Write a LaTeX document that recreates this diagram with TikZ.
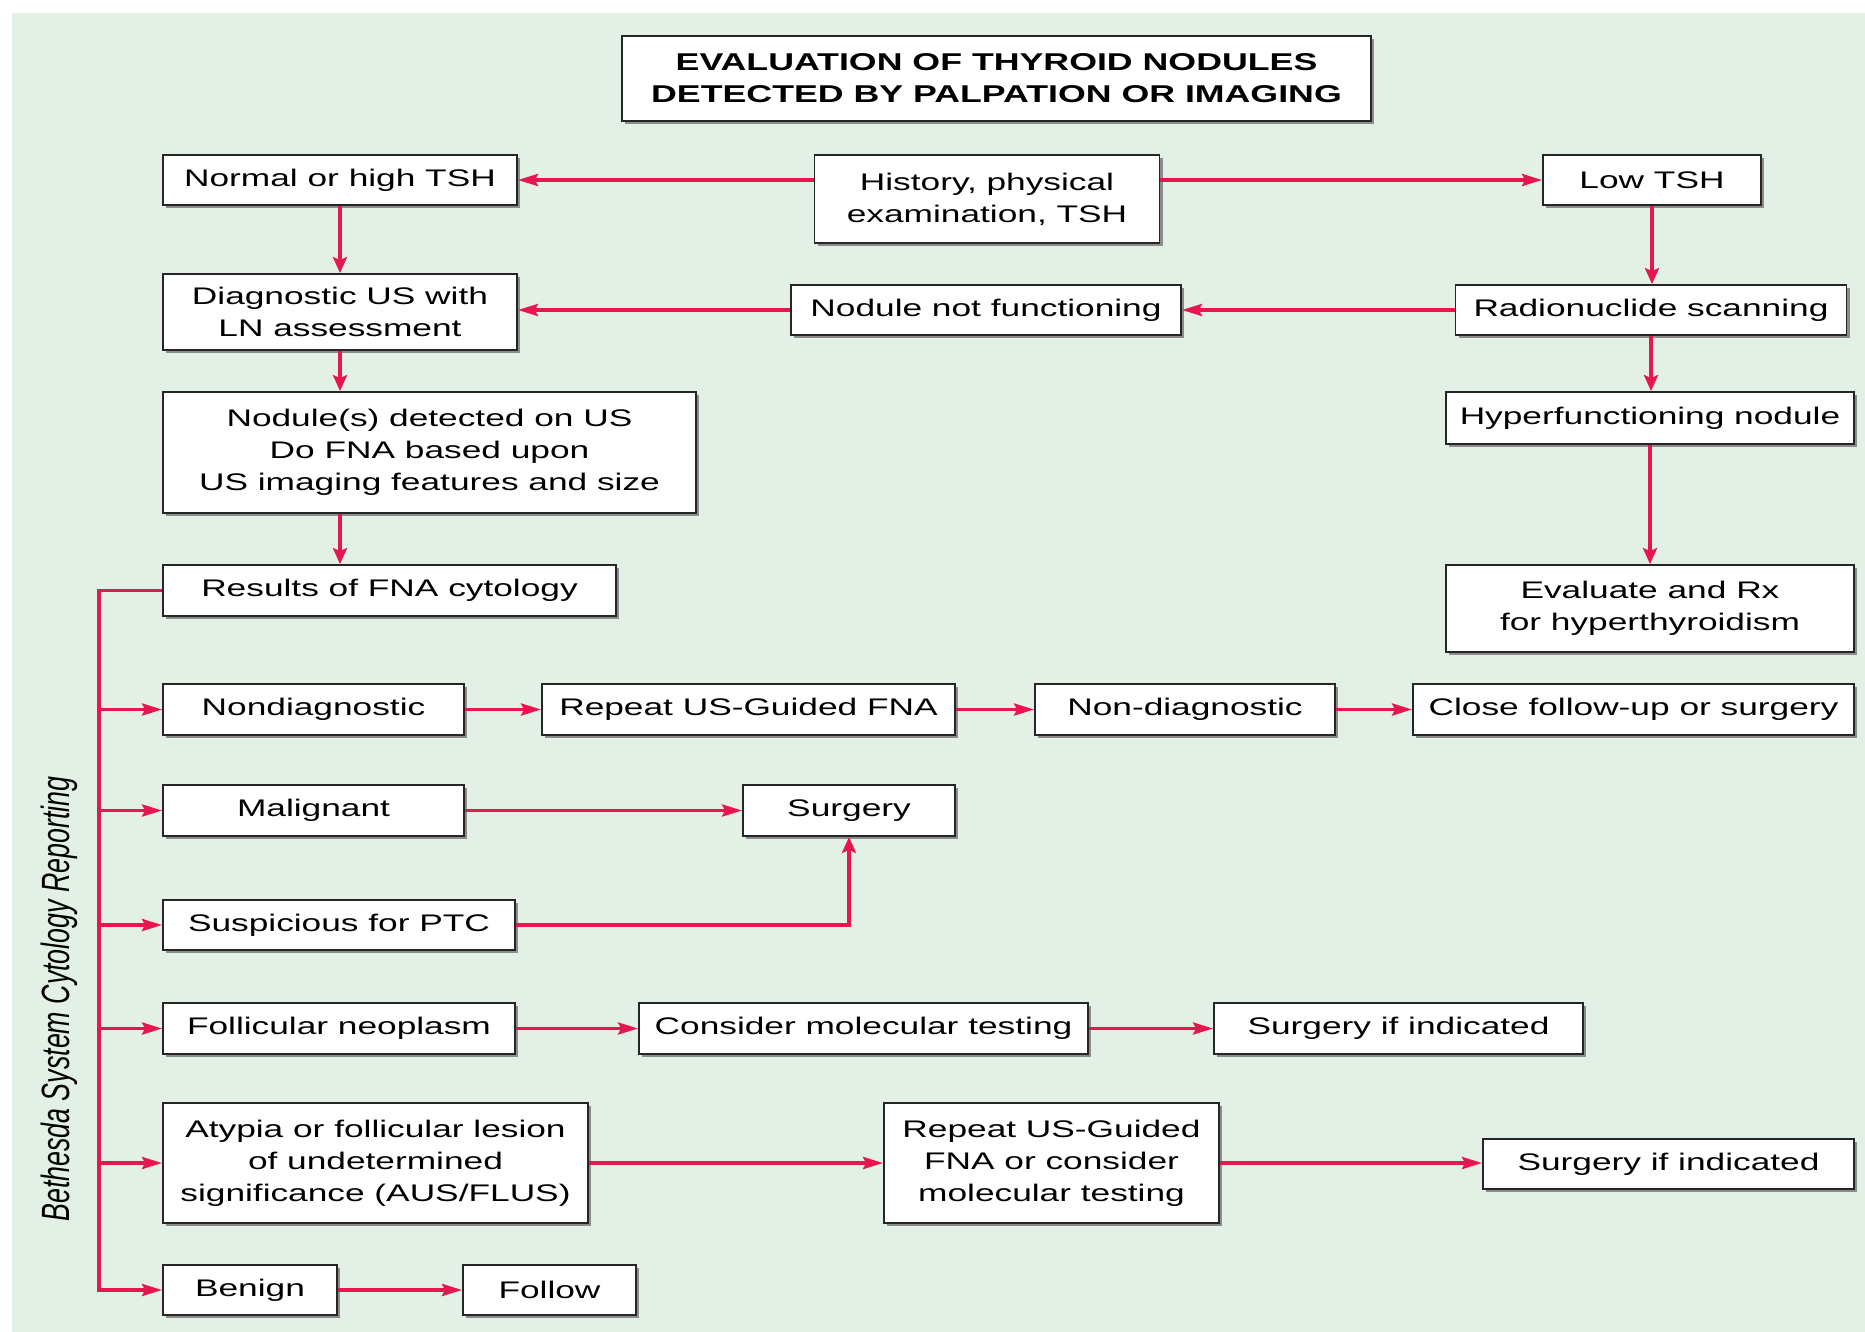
\documentclass[tikz,border=0pt]{standalone}
\usepackage{fontspec}
\setmainfont[FakeStretch=1.47]{Liberation Sans}
\newfontfamily\sidefont{Liberation Sans}
\usetikzlibrary{arrows.meta,shadows}
\definecolor{bggreen}{RGB}{226,240,229}
\definecolor{flowred}{RGB}{232,22,78}

\begin{document}
\begin{tikzpicture}[x=0.5pt,y=-0.5pt,
	box/.style={draw=black!85,line width=0.9pt,fill=white,align=center,inner sep=2pt,minimum height=25pt,
		font=\fontsize{12}{16}\selectfont,drop shadow={shadow xshift=1.6pt,shadow yshift=-1.6pt,fill=black!45,opacity=1}},
	harr/.style={draw=flowred,line width=1.8pt,-{Stealth[length=10pt,width=6pt,inset=1.5pt]}},
	varr/.style={draw=flowred,line width=1.8pt,-{Stealth[length=8pt,width=7pt,inset=1.5pt]}}]
	\useasboundingbox (0,0) rectangle (1865,1332);
	\fill[bggreen] (12,13) rectangle (1865,1332);
	% top part
	\node[box,minimum width=374.5pt,minimum height=42.5pt,font=\fontsize{12.15}{16}\selectfont\bfseries] (title) at (996.5,78.5) {EVALUATION OF THYROID NODULES\\DETECTED BY PALPATION OR IMAGING};
	\node[box,minimum width=177pt] (normal) at (340,180) {Normal or high TSH};
	\node[box,minimum width=172.5pt,minimum height=44pt] (hist) at (987,199) {History, physical\\examination, TSH};
	\node[box,minimum width=109pt] (low) at (1652,180) {Low TSH};
	\node[box,minimum width=177pt,minimum height=38pt] (diag) at (340,312) {Diagnostic US with\\LN assessment};
	\node[box,minimum width=195pt] (notfun) at (986,310) {Nodule not functioning};
	\node[box,minimum width=195.5pt] (radio) at (1651,310) {Radionuclide scanning};
	\node[box,minimum width=266.5pt,minimum height=60.5pt] (nodus) at (429.5,452.5) {Nodule(s) detected on US\\Do FNA based upon\\US imaging features and size};
	\node[box,minimum width=204pt,minimum height=26pt] (hyper) at (1650,418) {Hyperfunctioning nodule};
	\node[box,minimum width=226.5pt,minimum height=25.5pt] (results) at (389.5,590.5) {Results of FNA cytology};
	\node[box,minimum width=204pt,minimum height=43.5pt] (evalrx) at (1650,608.5) {Evaluate and Rx\\for hyperthyroidism};
	% Bethesda categories
	\node[box,minimum width=150.5pt,minimum height=25.5pt] (nondiag) at (313.5,709.5) {Nondiagnostic};
	\node[box,minimum width=206.5pt,minimum height=25.5pt] (repeat) at (748.5,709.5) {Repeat US-Guided FNA};
	\node[box,minimum width=150pt,minimum height=25.5pt] (nondiagb) at (1185,709.5) {Non-diagnostic};
	\node[box,minimum width=220.5pt,minimum height=25.5pt] (closefu) at (1633.5,709.5) {Close follow-up or surgery};
	\node[box,minimum width=150.5pt,minimum height=25.5pt] (malig) at (313.5,810.5) {Malignant};
	\node[box,minimum width=106pt,minimum height=25.5pt] (surg) at (849,810.5) {Surgery};
	\node[box,minimum width=176pt] (susp) at (339,925) {Suspicious for PTC};
	\node[box,minimum width=176pt,minimum height=25.5pt] (foll) at (339,1028.5) {Follicular neoplasm};
	\node[box,minimum width=224.5pt,minimum height=25.5pt] (molec) at (863.5,1028.5) {Consider molecular testing};
	\node[box,minimum width=184.5pt,minimum height=25.5pt] (surgind) at (1398.5,1028.5) {Surgery if indicated};
	\node[box,minimum width=212.5pt,minimum height=60pt] (atyp) at (375.5,1163) {Atypia or follicular lesion\\of undetermined\\significance (AUS/FLUS)};
	\node[box,minimum width=167.5pt,minimum height=60pt] (repmol) at (1051.5,1163) {Repeat US-Guided\\FNA or consider\\molecular testing};
	\node[box,minimum width=185.5pt] (surgindb) at (1668.5,1164) {Surgery if indicated};
	\node[box,minimum width=87pt] (benign) at (250,1290) {Benign};
	\node[box,minimum width=86.5pt] (follow) at (549.5,1290) {Follow};
	\node (bethesda) at (59.5,999) {\scalebox{1.47}[1]{\rotatebox{90}{\sidefont\itshape\fontsize{13.4}{16}\selectfont Bethesda System Cytology Reporting}}};
	\coordinate (bus) at (99,590.5);
	% arrows
	\draw[harr] (hist.west |- normal) -- (normal.east);
	\draw[harr] (hist.east |- low) -- (low.west);
	\draw[varr] (normal.south) -- (diag.north);
	\draw[varr] (low.south) -- (low.south |- radio.north);
	\draw[harr] (radio.west) -- (notfun.east);
	\draw[harr] (notfun.west) -- (notfun.west -| diag.east);
	\draw[varr] (radio.south) -- (radio.south |- hyper.north);
	\draw[varr] (hyper.south) -- (hyper.south |- evalrx.north);
	\draw[varr] (diag.south) -- (diag.south |- nodus.north);
	\draw[varr] (nodus.south -| diag) -- (results.north -| diag);
	\draw[harr] (results.west) -- (bus) |- (benign.west);
	\foreach \cat in {nondiag,malig,susp,foll,atyp}
		\draw[harr] (bus |- \cat) -- (\cat.west);
	\draw[harr] (nondiag.east) -- (repeat.west);
	\draw[harr] (repeat.east) -- (nondiagb.west);
	\draw[harr] (nondiagb.east) -- (closefu.west);
	\draw[harr] (malig.east) -- (surg.west);
	\draw[varr] (susp.east) -| (surg.south);
	\draw[harr] (foll.east) -- (molec.west);
	\draw[harr] (molec.east) -- (surgind.west);
	\draw[harr] (atyp.east) -- (repmol.west);
	\draw[harr] (repmol.east) -- (repmol.east -| surgindb.west);
	\draw[harr] (benign.east) -- (follow.west);
\end{tikzpicture}
\end{document}
